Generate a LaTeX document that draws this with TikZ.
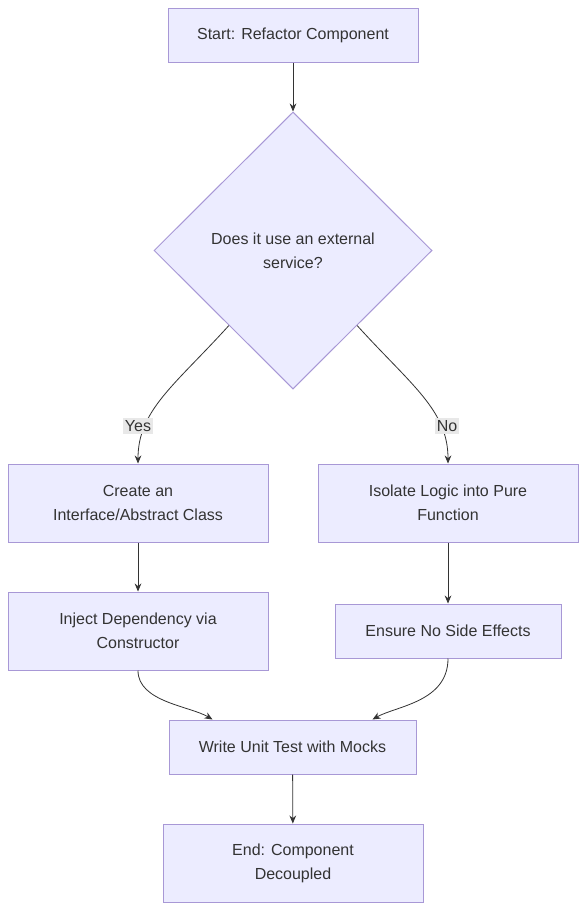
\documentclass[tikz,border=0pt]{standalone}
\usepackage{fontspec}
\setmainfont{Liberation Sans}
\usetikzlibrary{shapes.geometric,arrows.meta,calc}
\definecolor{nodefill}{HTML}{ECECFF}
\definecolor{nodeline}{HTML}{A898D6}
\definecolor{txt}{HTML}{333333}
\definecolor{lblbg}{HTML}{E8E8E8}
\begin{document}
\begin{tikzpicture}[x=0.75pt,y=-0.75pt,
 box/.style={draw=nodeline,fill=nodefill,line width=0.75pt,text=txt,align=center,font=\fontsize{12}{18}\selectfont,inner sep=0pt},
 decision/.style={box,shape=diamond,minimum width=208.5pt,minimum height=207.75pt},
 arr/.style={draw=txt,line width=0.6pt,-{Stealth[length=6pt,width=5pt]}},
 lbl/.style={fill=lblbg,text=txt,font=\fontsize{12}{14}\selectfont,inner sep=1.5pt}]
\fill[white] (0,0) rectangle (586,910);
\useasboundingbox (0,0) rectangle (586,910);
\node[box,minimum width=187.5pt,minimum height=40.5pt] (start) at (293,35) {Start: Refactor Component};
\node[decision] (dia) at (293,250.5) {Does it use an external\\service?};
\node[box,minimum width=195pt,minimum height=58.5pt] (create) at (138,503) {Create an\\Interface/Abstract Class};
\node[box,minimum width=195pt,minimum height=58.5pt] (isolate) at (448,503) {Isolate Logic into Pure\\Function};
\node[box,minimum width=195pt,minimum height=58.5pt] (inject) at (138,631) {Inject Dependency via\\Constructor};
\node[box,minimum width=169.5pt,minimum height=40.5pt] (ensure) at (448,631) {Ensure No Side Effects};
\node[box,minimum width=185.25pt,minimum height=40.5pt] (write) at (292.5,747) {Write Unit Test with Mocks};
\node[box,minimum width=195pt,minimum height=58.5pt] (end) at (293,863) {End: Component\\Decoupled};
\coordinate (dl) at ($(dia.west)!0.54!(dia.south)$);
\coordinate (dr) at ($(dia.east)!0.54!(dia.south)$);
\draw[arr] (start) -- (dia.north);
\draw[arr] (dl) .. controls (175,385) and (138,410) .. (create.north);
\draw[arr] (dr) .. controls (411,385) and (448,410) .. (isolate.north);
\node[lbl] (yes) at (138,426) {Yes};
\node[lbl] (no) at (447,426) {No};
\draw[arr] (create) -- (inject);
\draw[arr] (isolate) -- (ensure);
\draw[arr] (inject.south) .. controls (138,702) and (190,706) .. ([xshift=-60pt]write.north);
\draw[arr] (ensure.south) .. controls (448,702) and (396,706) .. ([xshift=60pt]write.north);
\draw[arr] (write) -- (end);
\end{tikzpicture}
\end{document}
